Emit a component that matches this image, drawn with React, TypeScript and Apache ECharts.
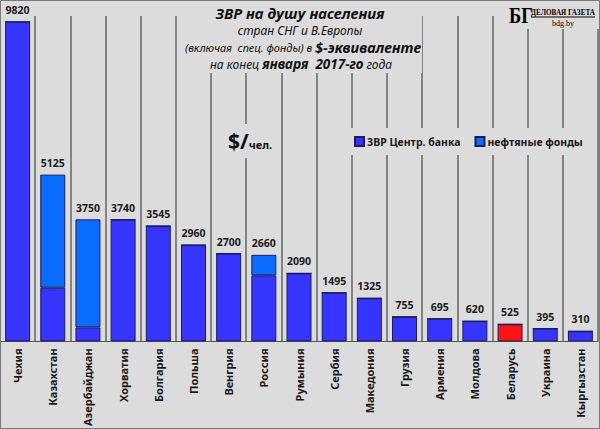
import React, { useEffect, useRef } from "react";
import * as echarts from "echarts";

const categories = ["Чехия", "Казахстан", "Азербайджан", "Хорватия", "Болгария", "Польша", "Венгрия", "Россия", "Румыния", "Сербия", "Македония", "Грузия", "Армения", "Молдова", "Беларусь", "Украина", "Кыргызстан"];
const cbReserves = [9820, 1650, 430, 3740, 3545, 2960, 2700, 2030, 2090, 1495, 1325, 755, 695, 620, 525, 395, 310];
const oilFunds = [0, 3475, 3320, 0, 0, 0, 0, 630, 0, 0, 0, 0, 0, 0, 0, 0, 0];
const totals = [9820, 5125, 3750, 3740, 3545, 2960, 2700, 2660, 2090, 1495, 1325, 755, 695, 620, 525, 395, 310];
const highlighted = "Беларусь";

const BG = "#dcdcdc";
const BLUE = "#3535ff";
const OIL = "#0a6dff";
const RED = "#ff1414";
const EDGE = "#1c1c5e";
const FONT = "'Noto Sans', 'DejaVu Sans', sans-serif";
const TFONT = "'Noto Sans', 'Open Sans', sans-serif";
const SERIF = "'Liberation Serif', 'DejaVu Serif', serif";

export default function App() {
  const ref = useRef<HTMLDivElement>(null);
  useEffect(() => {
    document.body.style.margin = "0";
    const chart = echarts.init(ref.current!, null, { renderer: "svg" });
    chart.setOption({
      animation: false,
      backgroundColor: BG,
      grid: { left: 0, right: 2, top: 16, bottom: 87, containLabel: false },
      legend: {
        data: ["ЗВР Центр. банка", "нефтяные фонды"],
        left: 346,
        top: 128,
        padding: [8, 8],
        backgroundColor: BG,
        itemWidth: 9,
        itemHeight: 9,
        itemGap: 14,
        icon: "rect",
        textStyle: { fontFamily: FONT, fontWeight: "bold", fontSize: 10.5, color: "#1a1a1a", padding: [0, 0, 0, -2] },
        z: 10,
      },
      xAxis: {
        type: "category",
        data: categories,
        boundaryGap: true,
        axisLine: { lineStyle: { color: "#555", width: 1 } },
        axisTick: { show: false },
        axisLabel: {
          rotate: 90,
          interval: 0,
          margin: 7,
          fontFamily: FONT,
          fontWeight: "bold",
          fontSize: 11,
          color: "#1a1a1a",
        },
        splitLine: {
          show: true,
          interval: 0,
          lineStyle: { color: "#666666", width: 1.5, type: "solid" },
        },
      },
      yAxis: { type: "value", min: 0, max: 10000, show: false, splitLine: { show: false } },
      series: [
        {
          name: "ЗВР Центр. банка",
          type: "bar",
          stack: "t",
          barWidth: "71%",
          data: cbReserves.map((v, i) => ({
            value: v,
            itemStyle: { color: categories[i] === highlighted ? RED : BLUE },
          })),
          itemStyle: { color: BLUE, borderColor: EDGE, borderWidth: 1 },
        },
        {
          name: "нефтяные фонды",
          type: "bar",
          stack: "t",
          barWidth: "71%",
          data: oilFunds,
          itemStyle: { color: OIL, borderColor: EDGE, borderWidth: 1 },
          label: {
            show: true,
            position: "top",
            distance: 6,
            formatter: (p: any) => String(totals[p.dataIndex]),
            fontFamily: FONT,
            fontWeight: "bold",
            fontSize: 10.5,
            color: "#1a1a1a",
          },
        },
      ],
      graphic: [
        { type: "rect", z: 20, shape: { x: 190, y: 1, width: 232, height: 72 }, style: { fill: BG } },
        {
          type: "text",
          z: 21,
          x: 300,
          y: 13,
          style: { text: "ЗВР на душу населения", fontFamily: TFONT, fontStyle: "italic", fontWeight: "bold", fontSize: 15, fill: "#111", align: "center", verticalAlign: "middle" },
        },
        {
          type: "text",
          z: 21,
          x: 300,
          y: 30,
          style: { text: "стран СНГ и В.Европы", fontFamily: TFONT, fontStyle: "italic", fontSize: 12, fill: "#111", align: "center", verticalAlign: "middle" },
        },
        {
          type: "text",
          z: 21,
          x: 303,
          y: 47,
          style: {
            text: "{a|(включая  спец. фонды) в }{b|$-эквиваленте}",
            align: "center",
            verticalAlign: "middle",
            rich: {
              a: { fontFamily: TFONT, fontStyle: "italic", fontSize: 11, fill: "#111" },
              b: { fontFamily: TFONT, fontStyle: "italic", fontWeight: "bold", fontSize: 14.5, fill: "#111" },
            },
          },
        },
        {
          type: "text",
          z: 21,
          x: 301,
          y: 64,
          style: {
            text: "{a|на конец }{b|января  2017-го}{a| года}",
            align: "center",
            verticalAlign: "middle",
            rich: {
              a: { fontFamily: TFONT, fontStyle: "italic", fontSize: 12, fill: "#111" },
              b: { fontFamily: TFONT, fontStyle: "italic", fontWeight: "bold", fontSize: 13.5, fill: "#111" },
            },
          },
        },
        { type: "rect", z: 20, shape: { x: 222, y: 124, width: 58, height: 34 }, style: { fill: BG } },
        {
          type: "text",
          z: 21,
          x: 228,
          y: 141,
          style: {
            text: "{a|$/}{b|чел.}",
            verticalAlign: "middle",
            rich: {
              a: { fontFamily: TFONT, fontWeight: "bold", fontSize: 21, fill: "#111" },
              b: { fontFamily: TFONT, fontWeight: "bold", fontSize: 11, fill: "#111", padding: [6, 0, 0, 0] },
            },
          },
        },
        { type: "rect", z: 20, shape: { x: 504, y: 1, width: 95, height: 28 }, style: { fill: BG } },
        {
          type: "group",
          z: 21,
          children: [
            {
              type: "text",
              z: 21,
              x: 509,
              y: 15,
              scaleX: 0.8,
              style: { text: "БГ", fontFamily: SERIF, fontWeight: "bold", fontSize: 23, fill: "#000", verticalAlign: "middle" },
            },
            {
              type: "text",
              z: 21,
              x: 531,
              y: 12,
              scaleX: 0.8,
              style: { text: "ДЕЛОВАЯ ГАЗЕТА", fontFamily: SERIF, fontWeight: "bold", fontSize: 9, fill: "#000", align: "left", verticalAlign: "middle" },
            },
            { type: "line", z: 21, shape: { x1: 531, y1: 17, x2: 595, y2: 17 }, style: { stroke: "#000", lineWidth: 1 } },
            {
              type: "text",
              z: 21,
              x: 563,
              y: 23,
              style: { text: "bdg.by", fontFamily: SERIF, fontSize: 8, fill: "#000", align: "center", verticalAlign: "middle" },
            },
          ],
        },
        { type: "rect", z: 30, shape: { x: 0.5, y: 0.5, width: 599, height: 428 }, style: { fill: "none", stroke: "#7a7a7a", lineWidth: 1 } },
      ],
    });
    return () => chart.dispose();
  }, []);
  return <div ref={ref} style={{ width: 600, height: 429 }} />;
}
